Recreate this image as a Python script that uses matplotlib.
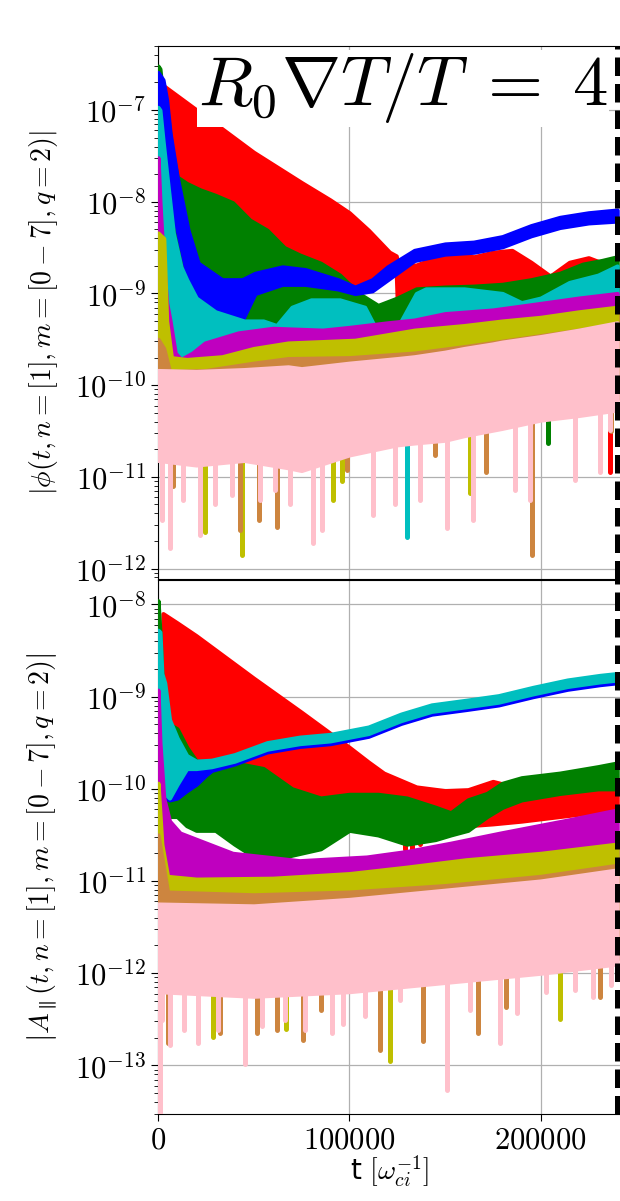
import numpy as np
import matplotlib
matplotlib.use("Agg")
import matplotlib.pyplot as plt
from matplotlib.ticker import FuncFormatter, NullFormatter, LogLocator

plt.rcParams['mathtext.fontset'] = 'cm'
plt.rcParams['font.family'] = ['DejaVu Sans']

# ---------------------------------------------------------------------------
# Mode amplitudes, n = 1, m = 0..7.  Times in units of 1000 / omega_ci,
# amplitudes as log10 of the upper / lower envelope of the fast oscillation.
# Deep minima of the oscillation ("spikes") are listed separately.
# ---------------------------------------------------------------------------

# ---- |phi| ----------------------------------------------------------------
PHI_RED_T = [2.6, 15, 30, 50, 75, 90, 100, 110, 121, 124.5, 125.5, 135, 145, 155, 165, 175, 185, 195, 205, 215, 225, 235, 240]
PHI_RED_HI = [-6.73, -6.92, -7.15, -7.46, -7.79, -7.98, -8.12, -8.31, -8.55, -8.59, -8.69, -8.69, -8.61, -8.56, -8.60, -8.55, -8.53, -8.66, -8.81, -8.66, -8.61, -8.69, -8.72]
PHI_RED_LO = [-8.9, -8.9, -8.95, -8.95, -8.95, -8.95, -8.92, -8.9, -8.8, -8.75, -9.35, -9.35, -9.35, -9.35, -9.35, -9.35, -9.35, -9.35, -9.35, -9.35, -9.3, -9.3, -9.3]
PHI_RED_SPIKE_T = [236]
PHI_RED_SPIKE_V = [-10.95]

PHI_GRN_T = [0, 1, 2, 5, 7, 10, 15, 22, 30, 39, 48, 57, 66, 74, 85, 95, 105, 115, 125, 135, 150, 165, 180, 195, 210, 222, 232, 240]
PHI_GRN_HI = [-6.52, -6.55, -6.75, -7.05, -7.40, -7.73, -7.80, -7.87, -7.93, -8.01, -8.20, -8.31, -8.50, -8.58, -8.67, -8.80, -9.00, -9.13, -9.05, -8.95, -8.93, -8.92, -8.90, -8.85, -8.78, -8.68, -8.64, -8.60]
PHI_GRN_LO = [-8.0, -8.0, -8.2, -8.4, -8.5, -8.6, -8.8, -9.0, -9.15, -9.25, -9.35, -9.4, -9.43, -9.44, -9.45, -9.45, -9.35, -9.32, -9.32, -9.35, -9.35, -9.35, -9.3, -9.3, -9.25, -9.2, -9.15, -9.1]
PHI_GRN_SPIKE_T = [204]
PHI_GRN_SPIKE_V = [-10.63]

PHI_BLU_T = [0, 1, 2.6, 4.5, 6.3, 10, 15.7, 21, 33.5, 44, 50.7, 65, 77, 94, 103, 112, 120, 134, 150, 165, 180, 195, 210, 225, 240]
PHI_BLU_HI = [-6.59, -6.62, -6.67, -6.89, -7.25, -7.73, -8.31, -8.67, -8.85, -8.85, -8.78, -8.71, -8.74, -8.85, -8.93, -8.85, -8.71, -8.53, -8.46, -8.44, -8.38, -8.26, -8.17, -8.12, -8.09]
PHI_BLU_LO = [-7.0, -7.1, -7.3, -7.6, -7.9, -8.3, -8.85, -9.1, -9.25, -9.29, -9.0, -8.9, -8.9, -8.95, -9.0, -8.97, -8.85, -8.64, -8.57, -8.55, -8.49, -8.37, -8.28, -8.23, -8.21]

PHI_CYN_T = [0, 1, 2.6, 4.5, 8, 12, 15, 20, 30, 45, 55, 62, 70, 80, 95, 108, 113, 125, 135, 140, 160, 180, 190, 200, 215, 230, 240]
PHI_CYN_HI = [-6.97, -7.0, -7.33, -7.69, -8.34, -8.71, -8.85, -9.05, -9.2, -9.3, -9.3, -9.35, -9.15, -9.07, -9.07, -9.15, -9.35, -9.38, -9.0, -8.95, -8.95, -9.0, -9.1, -9.05, -8.88, -8.8, -8.7]
PHI_CYN_LO = [-9.3, -9.4, -9.5, -9.6, -9.7, -9.72, -9.7, -9.62, -9.55, -9.48, -9.45, -9.45, -9.45, -9.45, -9.45, -9.45, -9.45, -9.45, -9.42, -9.4, -9.38, -9.35, -9.35, -9.3, -9.25, -9.2, -9.15]
PHI_CYN_SPIKE_T = [130]
PHI_CYN_SPIKE_V = [-11.66]

PHI_MAG_T = [0, 1, 2.6, 4.5, 6.3, 9, 12, 18, 24.6, 42, 60, 86, 100, 120, 134, 150, 175, 196, 220, 240]
PHI_MAG_HI = [-7.52, -8.0, -8.6, -9.1, -9.3, -9.65, -9.72, -9.65, -9.54, -9.43, -9.38, -9.40, -9.37, -9.32, -9.29, -9.22, -9.18, -9.12, -9.05, -9.0]
PHI_MAG_LO = [-9.9, -9.95, -10.0, -10.0, -10.0, -10.0, -10.0, -10.0, -9.95, -9.9, -9.85, -9.85, -9.8, -9.75, -9.72, -9.7, -9.65, -9.6, -9.55, -9.5]
PHI_MAG_SPIKE_T = [19]
PHI_MAG_SPIKE_V = [-10.86]

PHI_OLV_T = [0, 3, 4.5, 7, 15, 33.5, 50, 68, 103, 134, 160, 180, 200, 220, 240]
PHI_OLV_HI = [-8.34, -8.4, -9.3, -9.7, -9.72, -9.69, -9.6, -9.54, -9.51, -9.40, -9.35, -9.3, -9.26, -9.2, -9.15]
PHI_OLV_LO = [-10.3, -10.3, -10.35, -10.4, -10.4, -10.4, -10.4, -10.4, -10.3, -10.25, -10.2, -10.1, -10.05, -10.0, -9.95]
PHI_OLV_SPIKE_T = [24.5, 44, 91.5, 96, 163]
PHI_OLV_SPIKE_V = [-11.6, -11.85, -11.25, -11.05, -11.18]

PHI_PER_T = [0, 3, 6, 25, 50, 68, 100, 134, 160, 180, 200, 220, 240]
PHI_PER_HI = [-9.5, -9.6, -9.85, -9.84, -9.76, -9.71, -9.7, -9.65, -9.58, -9.52, -9.46, -9.4, -9.33]
PHI_PER_LO = [-10.6, -10.6, -10.6, -10.6, -10.6, -10.6, -10.55, -10.5, -10.4, -10.3, -10.25, -10.2, -10.15]
PHI_PER_SPIKE_T = [7.8, 22, 43, 53, 62, 99, 145, 171.5, 195.5, 237]
PHI_PER_SPIKE_V = [-11.1, -11.1, -11.58, -11.47, -11.55, -10.93, -10.76, -10.95, -11.85, -10.5]

PHI_PNK_T = [0, 20, 45, 68, 75, 100, 125, 134, 150, 160, 175, 180, 200, 220, 240]
PHI_PNK_HI = [-9.84, -9.85, -9.83, -9.80, -9.82, -9.76, -9.71, -9.69, -9.64, -9.6, -9.55, -9.53, -9.47, -9.40, -9.32]
PHI_PNK_LO = [-10.82, -10.87, -10.82, -10.9, -10.93, -10.76, -10.65, -10.63, -10.6, -10.55, -10.49, -10.47, -10.38, -10.33, -10.27]
PHI_PNK_SPIKE_T = [2, 6.3, 13, 22, 29.8, 38.7, 53.3, 61, 69, 81, 85.7, 112.4, 124, 137, 151, 164.6, 186.6, 194.4, 218, 231, 236]
PHI_PNK_SPIKE_V = [-11.47, -11.77, -11.25, -11.63, -11.3, -11.2, -11.25, -11.14, -11.3, -11.72, -11.58, -11.42, -11.3, -11.25, -11.56, -11.47, -11.14, -11.25, -11.03, -10.95, -10.49]

# ---- |A_parallel| ---------------------------------------------------------
A_RED_T = [2.6, 10, 20, 50, 75, 100, 110, 118, 135, 150, 162, 175, 190, 210, 230, 240]
A_RED_HI = [-8.10, -8.20, -8.34, -8.80, -9.17, -9.55, -9.71, -9.83, -9.98, -10.02, -10.01, -9.92, -10.0, -10.05, -10.0, -9.95]
A_RED_LO = [-10.0, -10.25, -10.25, -10.3, -10.3, -10.3, -10.35, -10.35, -10.4, -10.4, -10.4, -10.38, -10.35, -10.3, -10.25, -10.2]
A_RED_SPIKE_T = [129, 133, 137]
A_RED_SPIKE_V = [-10.65, -10.72, -10.6]

A_GRN_T = [0, 1, 3, 6, 10, 15, 20, 30, 40, 55, 70, 85, 100, 115, 130, 145, 153, 162, 172, 180, 190, 210, 230, 240]
A_GRN_HI = [-7.96, -8.3, -9.2, -9.3, -9.35, -9.55, -9.7, -9.72, -9.72, -9.78, -10.0, -10.1, -10.06, -10.06, -10.1, -10.2, -10.26, -10.12, -10.05, -9.94, -9.88, -9.83, -9.76, -9.72]
A_GRN_LO = [-9.5, -10.0, -10.3, -10.3, -10.3, -10.4, -10.45, -10.45, -10.6, -10.8, -10.72, -10.65, -10.45, -10.5, -10.6, -10.55, -10.5, -10.45, -10.3, -10.2, -10.12, -10.05, -10.0, -10.0]

A_BLU_T = [0, 2, 4, 6, 10, 15, 20, 25, 28, 40, 57, 74, 90, 110, 127, 143, 161, 178, 196, 214, 231, 240]
A_BLU_HI = [-8.3, -8.9, -9.2, -9.4, -9.55, -9.68, -9.72, -9.72, -9.72, -9.66, -9.53, -9.47, -9.44, -9.36, -9.22, -9.12, -9.07, -9.02, -8.93, -8.85, -8.80, -8.78]
A_BLU_LO = [-9.3, -9.9, -10.1, -10.12, -10.1, -10.02, -9.95, -9.85, -9.80, -9.73, -9.60, -9.54, -9.51, -9.43, -9.29, -9.19, -9.14, -9.09, -9.00, -8.92, -8.87, -8.85]

A_CYN_T = [0, 1, 2, 3.5, 6, 10, 15, 20, 28, 40, 57, 74, 90, 110, 127, 143, 161, 178, 196, 214, 231, 240]
A_CYN_HI = [-8.28, -8.30, -8.75, -8.85, -9.25, -9.45, -9.64, -9.70, -9.69, -9.63, -9.50, -9.44, -9.41, -9.33, -9.19, -9.09, -9.04, -8.99, -8.90, -8.82, -8.77, -8.75]
A_CYN_LO = [-9.6, -9.8, -10.0, -10.05, -10.1, -9.95, -9.78, -9.78, -9.76, -9.70, -9.57, -9.51, -9.48, -9.40, -9.26, -9.16, -9.11, -9.06, -8.97, -8.89, -8.84, -8.82]

A_MAG_T = [0, 1, 3, 6, 11.5, 39, 74, 109, 130, 153, 179, 214, 240]
A_MAG_HI = [-8.93, -9.5, -10.1, -10.35, -10.48, -10.70, -10.78, -10.74, -10.68, -10.59, -10.48, -10.34, -10.23]
A_MAG_LO = [-10.9, -11.0, -11.05, -11.05, -11.05, -11.1, -11.1, -11.05, -11.05, -11.0, -10.95, -10.85, -10.75]

A_OLV_T = [0, 2, 5, 20, 60, 100, 130, 161, 200, 240]
A_OLV_HI = [-9.94, -10.6, -10.95, -10.98, -10.97, -10.92, -10.85, -10.77, -10.7, -10.6]
A_OLV_LO = [-11.9, -11.9, -11.9, -11.9, -11.9, -11.9, -11.85, -11.8, -11.7, -11.6]
A_OLV_SPIKE_T = [29, 67, 121, 210]
A_OLV_SPIKE_V = [-12.69, -12.6, -12.95, -12.5]

A_PER_T = [0, 5, 50, 100, 150, 200, 240]
A_PER_HI = [-10.5, -11.12, -11.15, -11.12, -11.05, -10.95, -10.83]
A_PER_LO = [-12.1, -12.1, -12.15, -12.1, -12.05, -11.95, -11.85]
A_PER_SPIKE_T = [5.2, 32.4, 52, 62, 76, 85, 116, 138.5, 167, 182, 231]
A_PER_SPIKE_V = [-12.76, -12.65, -12.65, -12.62, -12.73, -12.4, -12.83, -12.74, -12.65, -12.37, -12.26]

A_PNK_T = [0, 50, 100, 150, 200, 240]
A_PNK_HI = [-11.25, -11.27, -11.2, -11.1, -11.0, -10.88]
A_PNK_LO = [-12.2, -12.25, -12.2, -12.1, -12.0, -11.9]
A_PNK_SPIKE_T = [0.8, 2, 6.3, 13.6, 21, 31.4, 45.5, 54.4, 66.4, 76.8, 91, 96.7, 108, 126.5, 151, 163, 178.8, 187.7, 203, 218, 227.4, 237]
A_PNK_SPIKE_V = [-13.55, -12.51, -12.78, -12.62, -12.76, -12.62, -12.98, -12.57, -12.51, -12.62, -12.65, -12.55, -12.46, -12.29, -13.27, -12.4, -12.76, -12.43, -12.2, -12.18, -12.26, -12.13]

T_END = 240e3          # end of the run (dashed marker)
X_MAX = 242e3
TIME_UNIT = 1e3
X_TICKS = [0, 100000, 200000]
PHI_DECADES = [1e-12, 1e-11, 1e-10, 1e-9, 1e-8, 1e-7]
A_DECADES = [1e-13, 1e-12, 1e-11, 1e-10, 1e-9, 1e-8]

COLORS = ['r', 'g', 'b', 'c', 'm', 'y', 'peru', 'pink']

PHI_MODES = [
    (PHI_RED_T, PHI_RED_HI, PHI_RED_LO, PHI_RED_SPIKE_T, PHI_RED_SPIKE_V),
    (PHI_GRN_T, PHI_GRN_HI, PHI_GRN_LO, PHI_GRN_SPIKE_T, PHI_GRN_SPIKE_V),
    (PHI_BLU_T, PHI_BLU_HI, PHI_BLU_LO, [], []),
    (PHI_CYN_T, PHI_CYN_HI, PHI_CYN_LO, PHI_CYN_SPIKE_T, PHI_CYN_SPIKE_V),
    (PHI_MAG_T, PHI_MAG_HI, PHI_MAG_LO, PHI_MAG_SPIKE_T, PHI_MAG_SPIKE_V),
    (PHI_OLV_T, PHI_OLV_HI, PHI_OLV_LO, PHI_OLV_SPIKE_T, PHI_OLV_SPIKE_V),
    (PHI_PER_T, PHI_PER_HI, PHI_PER_LO, PHI_PER_SPIKE_T, PHI_PER_SPIKE_V),
    (PHI_PNK_T, PHI_PNK_HI, PHI_PNK_LO, PHI_PNK_SPIKE_T, PHI_PNK_SPIKE_V),
]
A_MODES = [
    (A_RED_T, A_RED_HI, A_RED_LO, A_RED_SPIKE_T, A_RED_SPIKE_V),
    (A_GRN_T, A_GRN_HI, A_GRN_LO, [], []),
    (A_BLU_T, A_BLU_HI, A_BLU_LO, [], []),
    (A_CYN_T, A_CYN_HI, A_CYN_LO, [], []),
    (A_MAG_T, A_MAG_HI, A_MAG_LO, [], []),
    (A_OLV_T, A_OLV_HI, A_OLV_LO, A_OLV_SPIKE_T, A_OLV_SPIKE_V),
    (A_PER_T, A_PER_HI, A_PER_LO, A_PER_SPIKE_T, A_PER_SPIKE_V),
    (A_PNK_T, A_PNK_HI, A_PNK_LO, A_PNK_SPIKE_T, A_PNK_SPIKE_V),
]


def draw_mode(ax, kt, hi, lo, spike_kt, spike_v, color, z):
    t = np.asarray(kt, float) * TIME_UNIT
    hi = np.asarray(hi, float)
    lo = np.asarray(lo, float)
    ax.fill_between(t, 10.0 ** lo, 10.0 ** hi, facecolor=color, edgecolor=color,
                    linewidth=3.0, joinstyle='round', zorder=z)
    if len(spike_kt):
        st = np.asarray(spike_kt, float) * TIME_UNIT
        start = 0.5 * (np.interp(st, t, hi) + np.interp(st, t, lo))
        ax.vlines(st, 10.0 ** np.asarray(spike_v, float), 10.0 ** start,
                  colors=color, linewidth=3.6, capstyle='round', zorder=z)


def decade_label(v, pos):
    return r'$10^{%d}$' % int(round(np.log10(v)))


fig = plt.figure(figsize=(6.2, 12.01), dpi=100)
W, H = 620.0, 1201.0
ax1 = fig.add_axes([158 / W, 1 - 579 / H, 463 / W, 533 / H])
ax2 = fig.add_axes([158 / W, 1 - 1114 / H, 463 / W, 534 / H], sharex=ax1)

for ax, modes, decades in ((ax1, PHI_MODES, PHI_DECADES), (ax2, A_MODES, A_DECADES)):
    for k, (kt, hi, lo, skt, sv) in enumerate(modes):
        draw_mode(ax, kt, hi, lo, skt, sv, COLORS[k], 2 + k)
    ax.axvline(T_END, color='k', linestyle='--', linewidth=3.6, zorder=20)
    ax.set_yscale('log')
    ax.set_yticks(decades)
    ax.yaxis.set_minor_locator(LogLocator(base=10, subs=np.arange(2, 10)))
    ax.yaxis.set_major_formatter(FuncFormatter(decade_label))
    ax.yaxis.set_minor_formatter(NullFormatter())
    ax.grid(True, color='#b0b0b0', linewidth=0.9)
    ax.set_axisbelow(True)
    ax.tick_params(axis='both', which='major', labelsize=22, direction='out', length=5)
    ax.tick_params(axis='y', which='minor', direction='out', length=3)

ax1.set_xlim(0, X_MAX)
ax1.set_ylim(7.7e-13, 5.0e-7)
ax2.set_ylim(2.97e-14, 1.84e-8)
ax2.set_xticks(X_TICKS)
ax2.xaxis.set_major_formatter(FuncFormatter(lambda v, p: r'$%d$' % int(round(v))))
plt.setp(ax1.get_xticklabels(), visible=False)
ax1.tick_params(axis='x', length=0)

ax1.set_ylabel(r'$|\phi(t, n=[1], m=[0-7], q=2)|$', fontsize=20)
ax2.set_ylabel(r'$\left|A_{\parallel}(t, n=[1], m=[0-7], q=2)\right|$', fontsize=20)
ax1.yaxis.set_label_coords(-0.212, 0.5)
ax2.yaxis.set_label_coords(-0.212, 0.5)
ax2.set_xlabel(r't $[\omega_{ci}^{-1}]$', fontsize=20)
ax2.xaxis.set_label_coords(0.5, -0.073)

ax1.text(0.972, 0.889, r'$R_0\nabla T/T\;=\;4$', transform=ax1.transAxes,
         ha='right', va='baseline', fontsize=51, zorder=30,
         bbox=dict(facecolor='white', edgecolor='none', pad=1))

fig.savefig('out.png', dpi=100)
